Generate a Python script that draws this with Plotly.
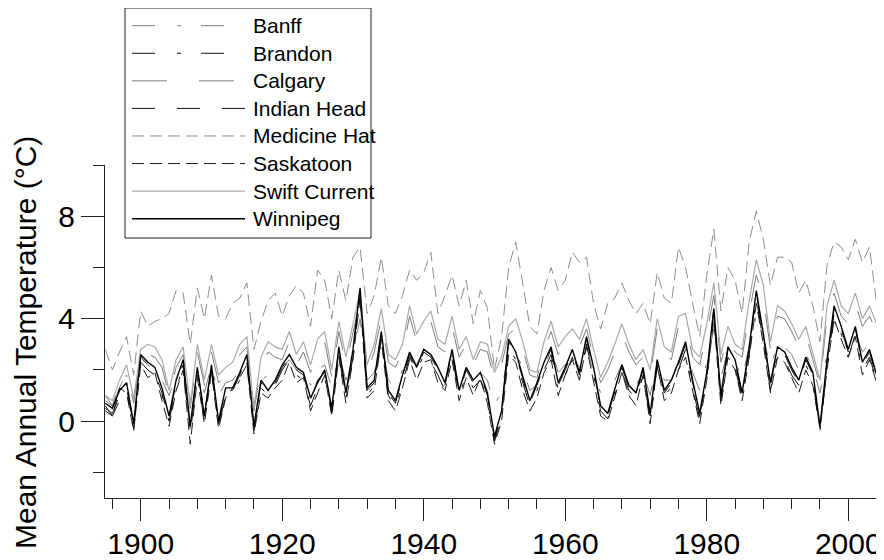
import plotly.graph_objects as go

years = list(range(1895, 2005))

stations = ["Banff", "Brandon", "Calgary", "Indian Head", "Medicine Hat",
            "Saskatoon", "Swift Current", "Winnipeg"]

banff = [1.0,0.6,1.5,1.8,0.9,2.3,2.2,2.0,1.6,1.0,
         1.8,2.2,0.8,2.0,1.1,2.2,1.0,1.5,1.6,2.0,
         2.3,0.6,1.6,1.8,1.9,2.1,2.4,2.0,2.1,1.4,
         2.0,2.2,1.3,2.6,1.6,2.6,4.0,1.6,1.9,3.1,
         1.6,1.3,2.0,2.6,2.2,2.8,2.7,2.1,1.9,2.6,
         1.6,2.0,1.6,1.9,1.6,0.6,1.2,2.7,2.8,2.0,
         1.2,1.4,2.1,2.8,1.9,2.2,2.6,2.1,2.9,1.9,
         1.1,1.2,1.6,2.2,1.6,1.4,1.9,1.0,2.4,1.6,
         1.6,2.4,2.9,1.9,1.2,2.3,3.6,1.7,2.8,2.3,
         1.7,2.9,4.1,3.3,2.1,3.0,2.9,2.6,2.0,2.6,
         2.1,1.1,2.6,3.9,3.2,2.8,3.4,2.7,3.0,2.4]

brandon = [0.5,0.3,1.0,1.2,-0.3,2.3,2.0,1.8,1.0,0.0,
           1.3,2.1,-0.5,1.8,0.0,2.0,-0.2,1.0,1.1,1.6,
           2.3,-0.4,1.3,1.0,1.4,2.0,2.4,1.8,1.6,0.6,
           1.3,1.7,0.3,2.6,0.9,2.5,4.9,1.0,1.4,3.2,
           1.0,0.5,1.5,2.5,1.9,2.6,2.3,1.8,1.2,2.6,
           1.0,1.8,1.3,1.6,0.8,-0.8,0.2,2.9,2.4,1.5,
           0.6,1.2,2.0,2.6,1.2,1.8,2.5,1.6,3.0,1.8,
           0.4,0.1,1.0,1.9,1.2,0.9,1.8,0.1,2.1,1.0,
           1.3,2.0,2.8,1.3,0.1,1.7,4.1,0.8,2.6,2.1,
           0.9,2.6,4.8,3.1,1.2,2.6,2.4,1.8,1.4,2.2,
           1.6,-0.4,2.1,4.2,3.4,2.5,3.4,2.0,2.5,1.6]

calgary = [0.8,0.6,1.3,1.9,0.7,2.5,2.6,2.5,2.1,1.0,
           2.1,2.6,0.5,2.7,1.4,2.7,1.5,1.8,2.0,2.6,
           2.9,0.4,2.1,2.7,2.5,2.4,3.1,2.2,2.7,1.9,
           2.8,3.1,1.7,3.5,2.2,3.4,4.7,1.9,2.7,4.0,
           2.3,2.1,2.7,4.1,3.1,3.5,3.9,2.9,2.7,3.7,
           2.5,3.0,2.2,2.8,2.7,1.6,2.2,3.4,3.6,2.8,
           1.8,1.7,2.8,3.5,2.6,3.0,3.2,2.9,3.6,2.5,
           1.5,2.0,2.7,3.4,2.7,2.2,2.5,1.8,3.6,2.6,
           2.4,3.7,3.8,2.5,2.2,3.4,4.9,2.3,3.3,2.7,
           2.5,4.2,5.7,4.8,2.8,4.1,4.0,3.5,2.9,3.4,
           2.4,1.4,4.1,5.0,4.1,3.8,4.6,3.7,4.1,3.5]

indian_head = [0.4,0.2,0.8,1.3,-0.2,2.5,2.2,1.9,1.1,0.1,
               1.5,2.2,-0.3,2.0,0.3,2.1,-0.1,1.2,1.2,1.8,
               2.5,-0.3,1.5,1.1,1.5,2.1,2.5,2.0,1.8,0.8,
               1.6,1.9,0.4,2.8,1.0,2.7,5.0,1.2,1.5,3.4,
               1.1,0.7,1.7,2.6,2.0,2.7,2.5,2.0,1.4,2.7,
               1.1,2.0,1.5,1.8,1.0,-0.7,0.3,3.1,2.6,1.7,
               0.7,1.4,2.2,2.8,1.4,2.0,2.7,1.8,3.2,2.0,
               0.5,0.2,1.2,2.1,1.3,1.0,2.0,0.2,2.3,1.1,
               1.5,2.2,3.0,1.5,0.2,1.8,4.3,0.9,2.8,2.3,
               1.0,2.8,5.0,3.3,1.4,2.8,2.6,2.0,1.5,2.4,
               1.8,-0.3,2.3,4.4,3.6,2.7,3.6,2.2,2.7,1.7]

medicine_hat = [2.8,2.0,2.7,3.3,1.8,4.3,3.7,3.9,4.0,4.2,
                5.1,5.0,3.0,5.2,4.0,5.7,4.1,4.0,4.6,4.8,
                5.4,2.8,3.9,4.7,5.0,4.1,4.9,5.3,5.0,3.7,
                5.9,5.5,4.0,5.9,4.7,6.4,6.8,4.2,4.9,6.4,
                4.5,4.2,4.9,5.9,5.5,5.8,6.6,4.2,4.9,5.7,
                4.5,5.5,3.8,5.1,4.4,2.0,3.3,6.0,7.0,5.4,
                3.7,3.4,5.1,6.0,5.1,5.5,6.6,6.2,6.4,4.6,
                3.6,4.6,4.8,5.4,4.7,4.2,4.6,3.8,5.8,4.8,
                4.6,6.8,6.0,4.6,3.3,5.7,7.5,4.3,6.0,5.5,
                4.2,7.0,8.2,7.1,5.3,6.4,6.4,6.2,5.0,5.5,
                4.5,3.1,6.1,7.0,6.8,6.3,7.1,6.2,6.8,4.6]

saskatoon = [0.6,0.2,1.3,1.1,-0.4,2.2,1.7,1.9,0.8,-0.2,
             1.2,2.0,-0.9,1.7,-0.1,1.9,-0.3,0.9,1.3,1.7,
             2.2,-0.5,1.1,0.9,1.3,1.6,2.3,1.5,1.7,0.4,
             1.1,1.8,0.2,2.5,0.7,2.4,4.8,0.9,1.2,3.2,
             0.8,0.4,1.3,2.4,1.6,2.3,2.4,1.5,1.2,2.4,
             0.8,1.7,1.0,1.7,0.7,-0.9,0.0,2.6,2.3,1.2,
             0.4,0.9,1.9,2.4,1.0,1.8,2.4,1.6,2.9,1.6,
             0.2,0.0,0.9,1.9,1.0,0.6,1.8,-0.1,2.2,0.8,
             1.1,2.0,2.5,1.2,-0.1,1.6,4.0,0.6,2.5,2.0,
             0.8,2.5,4.6,3.0,1.1,2.5,2.3,1.7,1.1,2.0,
             1.4,-0.3,2.0,4.0,3.2,2.5,3.3,1.8,2.4,1.5]

swift_current = [1.0,0.8,1.6,2.2,0.9,2.8,3.0,2.9,2.4,1.2,
                 2.4,2.9,0.6,3.0,1.6,3.0,1.8,2.1,2.3,3.0,
                 3.3,0.5,2.5,3.1,2.9,2.8,3.5,2.6,3.1,2.2,
                 3.2,3.5,2.0,3.9,2.5,3.8,5.1,2.2,3.0,4.4,
                 2.6,2.4,3.0,4.5,3.4,3.9,4.3,3.2,3.0,4.1,
                 2.8,3.3,2.4,3.1,3.0,1.9,2.5,3.7,4.0,3.1,
                 2.0,1.9,3.1,3.9,2.9,3.3,3.6,3.2,4.0,2.8,
                 1.7,2.3,3.0,3.8,3.0,2.4,2.8,2.0,4.0,2.9,
                 2.7,4.1,4.2,2.8,2.5,3.8,5.4,2.6,3.7,3.0,
                 2.8,4.7,6.3,5.3,3.1,4.5,4.3,3.8,3.2,3.7,
                 2.7,1.6,4.5,5.5,4.5,4.2,5.0,4.0,4.5,3.8]

winnipeg = [0.7,0.5,1.2,1.5,-0.1,2.6,2.3,2.1,1.3,0.2,
            1.6,2.4,-0.2,2.1,0.2,2.2,0.0,1.3,1.3,1.9,
            2.6,-0.2,1.6,1.2,1.6,2.2,2.6,2.1,1.9,0.9,
            1.5,2.0,0.5,2.9,1.1,2.8,5.2,1.3,1.6,3.5,
            1.2,0.8,1.8,2.7,2.1,2.8,2.6,2.1,1.5,2.8,
            1.2,2.1,1.6,1.9,1.1,-0.6,0.4,3.2,2.7,1.8,
            0.8,1.5,2.3,2.9,1.5,2.1,2.8,1.9,3.3,2.1,
            0.6,0.3,1.3,2.2,1.4,1.1,2.1,0.3,2.4,1.2,
            1.6,2.3,3.1,1.6,0.3,1.9,4.4,1.0,2.9,2.4,
            1.1,2.9,5.1,3.4,1.5,2.9,2.7,2.1,1.6,2.5,
            1.9,-0.2,2.4,4.5,3.7,2.8,3.7,2.3,2.8,1.8]

series = [banff, brandon, calgary, indian_head, medicine_hat,
          saskatoon, swift_current, winnipeg]

colors = ["#7c7c7c", "#111111", "#7c7c7c", "#111111", "#8e8e8e",
          "#1c1c1c", "#a9a9a9", "#000000"]
dashes = ["23px,22px,4px,20px", "23px,22px,4px,20px", "35px,32px", "23px,22px",
          "12px,6px", "12px,6px", "solid", "solid"]
widths = [1, 1, 1, 1, 1, 1, 1.2, 1.4]

# the page body adds an 8px offset; figure size compensates for it
OFF = 8
W, H = 884 - OFF, 560 - OFF
L, R, T, B = 105 - OFF, 0, 165 - OFF, 62
pw, ph = W - L - R, H - T - B


def px_x(px):
    return (px - OFF - L) / pw


def px_y(py):
    return (H - B - (py - OFF)) / ph


fig = go.Figure()
for name, vals, col, dsh, w in zip(stations, series, colors, dashes, widths):
    fig.add_trace(go.Scatter(x=years, y=vals, mode="lines", name=name,
                             line=dict(color=col, dash=dsh, width=w),
                             showlegend=False))

shapes = []
annotations = []
# legend box
shapes.append(dict(type="rect", xref="paper", yref="paper",
                   x0=px_x(125), x1=px_x(371), y0=px_y(238), y1=px_y(8),
                   line=dict(color="#222222", width=1), fillcolor="white",
                   layer="above"))
for i, name in enumerate(stations):
    yy = 25.7 + i * 27.57
    shapes.append(dict(type="line", xref="paper", yref="paper",
                       x0=px_x(132), x1=px_x(245), y0=px_y(yy), y1=px_y(yy),
                       line=dict(color=colors[i], dash=dashes[i], width=widths[i]),
                       layer="above"))
    annotations.append(dict(text=name, xref="paper", yref="paper",
                            x=px_x(251), y=px_y(yy), xanchor="left",
                            yanchor="middle", showarrow=False,
                            font=dict(size=21, color="#000000",
                                      family="Liberation Sans, Arial")))

annotations.append(dict(text="Mean Annual Temperature (°C)", xref="paper",
                        yref="paper", x=px_x(25), y=px_y(343), textangle=-90,
                        xanchor="center", yanchor="middle", showarrow=False,
                        font=dict(size=30, color="#000000",
                                  family="Liberation Sans, Arial")))

fig.update_layout(
    template="none",
    width=W, height=H,
    margin=dict(l=L, r=R, t=T, b=B, pad=0),
    paper_bgcolor="white", plot_bgcolor="white",
    font=dict(family="Liberation Sans, Arial", color="#000000"),
    showlegend=False,
    shapes=shapes,
    annotations=annotations,
    xaxis=dict(range=[1894.95, 2005.05], showgrid=False, zeroline=False,
               showline=True, linecolor="#222222", linewidth=1,
               ticks="outside", tick0=1900, dtick=20, ticklen=22,
               tickcolor="#222222", tickwidth=1, ticklabelstandoff=-3,
               tickfont=dict(size=30, color="#000000"),
               minor=dict(ticks="outside", tick0=1900, dtick=4, ticklen=10,
                          tickcolor="#222222", tickwidth=1, showgrid=False),
               automargin=False),
    yaxis=dict(range=[-3, 10], showgrid=False, zeroline=False,
               showline=True, linecolor="#222222", linewidth=1,
               ticks="outside", tick0=0, dtick=4, ticklen=23,
               tickcolor="#222222", tickwidth=1,
               tickfont=dict(size=30, color="#000000"),
               minor=dict(ticks="outside", tick0=0, dtick=2, ticklen=11,
                          tickcolor="#222222", tickwidth=1, showgrid=False),
               automargin=False),
)

fig.write_html("out.html")
